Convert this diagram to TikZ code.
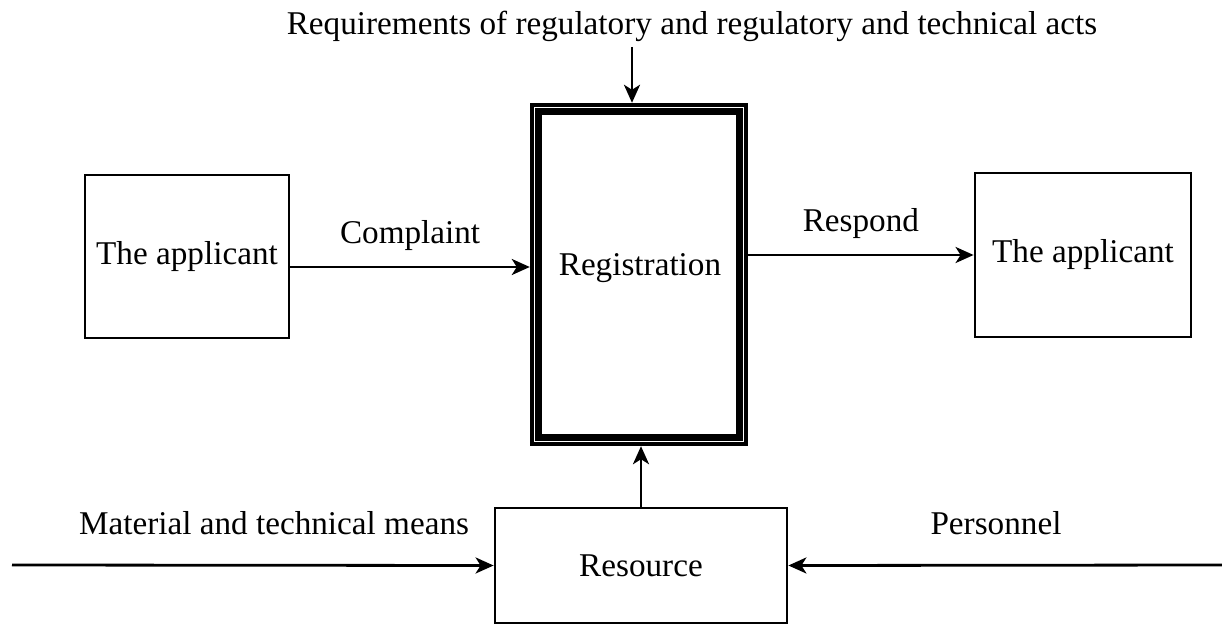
\documentclass[tikz,border=0pt]{standalone}
\usepackage{fontspec}
\setmainfont{Liberation Serif}
\usetikzlibrary{arrows.meta}

\begin{document}
\begin{tikzpicture}[
  x=0.5pt, y=-0.5pt,
  font=\fontsize{16.6}{20}\selectfont,
  box/.style={draw, line width=1.4pt, inner sep=0pt, align=center},
  arrow/.style={-{Stealth[length=9pt,width=8pt,inset=2.5pt]}, line width=1.4pt}
]
\useasboundingbox (0,0) rectangle (1222,626);
% boxes
\node[box, minimum width=102pt, minimum height=81.5pt] (applA) at (187,256.5) {The applicant};
\node[box, minimum width=108pt, minimum height=82pt] (applB) at (1083,255) {The applicant};
\node[box, line width=2.2pt, minimum width=107pt, minimum height=169.5pt] (reg) at (639,274.5) {};
\draw[line width=3.5pt] ([shift={(4.3pt,-4.3pt)}]reg.north west) rectangle ([shift={(-4.3pt,4.3pt)}]reg.south east);
\node at (640,268) {Registration};
\node[box, minimum width=146pt, minimum height=57.5pt] (res) at (641,565.5) {Resource};
% texts
\node (req) at (692,26) {Requirements of regulatory and regulatory and technical acts};
\node (mat) at (274,523) {Material and technical means};
\node (per) at (996,523) {Personnel};
\coordinate (reqin) at (632,47);
\coordinate (matin) at (12,565);
\coordinate (perin) at (1222,565);
% arrows
\draw[arrow] (reqin) -- (reqin |- reg.north);
\draw[arrow] ([yshift=-5.25pt]applA.east) -- ([yshift=-5.25pt]applA.east -| reg.west)
  node[midway, above=4pt] {Complaint};
\draw[arrow] (applB.west -| reg.east) -- (applB.west)
  node[midway, above=4pt] {Respond};
\draw[arrow] (res.north) -- (res.north |- reg.south);
\draw[arrow] (matin) -- (res.west);
\draw[arrow] (perin) -- (res.east);
\end{tikzpicture}
\end{document}
